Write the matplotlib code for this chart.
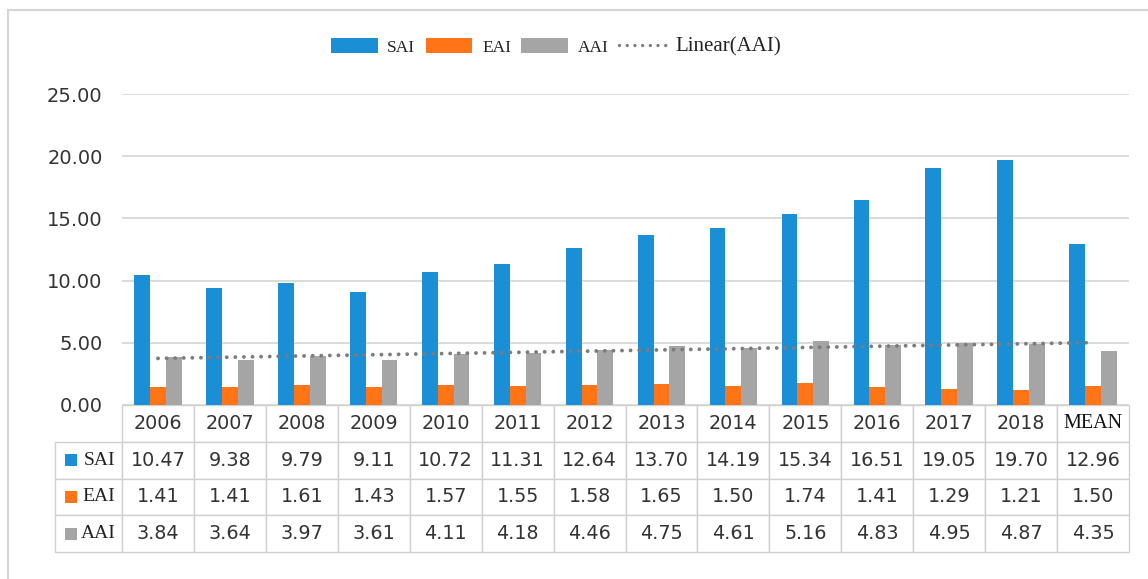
import numpy as np
import matplotlib
matplotlib.use("Agg")
import matplotlib.pyplot as plt
from matplotlib.patches import Patch, Rectangle
from matplotlib.lines import Line2D

categories = ["2006", "2007", "2008", "2009", "2010", "2011", "2012", "2013",
              "2014", "2015", "2016", "2017", "2018", "MEAN"]
sai = [10.47, 9.38, 9.79, 9.11, 10.72, 11.31, 12.64, 13.70, 14.19, 15.34,
       16.51, 19.05, 19.70, 12.96]
eai = [1.41, 1.41, 1.61, 1.43, 1.57, 1.55, 1.58, 1.65, 1.50, 1.74,
       1.41, 1.29, 1.21, 1.50]
aai = [3.84, 3.64, 3.97, 3.61, 4.11, 4.18, 4.46, 4.75, 4.61, 5.16,
       4.83, 4.95, 4.87, 4.35]
series_names = ["SAI", "EAI", "AAI"]
series_values = [sai, eai, aai]
colors = ["#1a8fd6", "#ff7417", "#a5a5a5"]
yticks = [0, 5, 10, 15, 20, 25]

W, H = 1148, 579
fig = plt.figure(figsize=(W / 100, H / 100), dpi=100)
fig.patch.set_facecolor("white")

# outer border (top and left visible)
fig.add_artist(Line2D([8 / W, 1.0], [1 - 10 / H, 1 - 10 / H], color="#d6d6d6", lw=1.5))
fig.add_artist(Line2D([8 / W, 8 / W], [0, 1 - 10 / H], color="#d6d6d6", lw=1.5))

ax_left, ax_right, ax_top, ax_bottom = 122, 1129, 94, 405
ax = fig.add_axes([ax_left / W, 1 - ax_bottom / H, (ax_right - ax_left) / W,
                   (ax_bottom - ax_top) / H])

x = np.arange(len(categories))
bw = 0.22
for i, (name, vals, c) in enumerate(zip(series_names, series_values, colors)):
    ax.bar(x + (i - 1) * bw, vals, width=bw, color=c, label=name, zorder=2)

# linear trendline of AAI
coef = np.polyfit(x, aai, 1)
ax.plot([x[0], x[-1]], np.polyval(coef, [x[0], x[-1]]), color="#7c7c7c", lw=2.8,
        linestyle=(0, (0.01, 2.2)), dash_capstyle="round", zorder=3)

ax.set_xlim(-0.5, len(categories) - 0.5)
ax.set_ylim(0, 25)
ax.set_yticks(yticks)
ax.set_yticklabels([f"{v:.2f}" for v in yticks], fontsize=14, color="#333333",
                   family="DejaVu Sans")
ax.tick_params(axis="y", length=0, pad=14)
ax.set_xticks([])
ax.grid(axis="y", color="#d4d4d4", lw=1.2)
ax.set_axisbelow(True)
for s in ax.spines.values():
    s.set_visible(False)

# data table
ncol = len(categories)
colw = 1.0 / ncol
rowlabw = colw * 67 / 72
tbl_h = (552 - 405) / (ax_bottom - ax_top)
cell_text = [[f"{v:.2f}" for v in vals] for vals in series_values]
tbl = ax.table(cellText=cell_text, rowLabels=series_names, colLabels=categories,
               colWidths=[colw] * ncol,
               cellLoc="center", rowLoc="right", colLoc="center",
               bbox=[0, -tbl_h, 1, tbl_h])
tbl._autoColumns = []
tbl.auto_set_font_size(False)
tbl.set_fontsize(13.8)
for (r, c), cell in tbl.get_celld().items():
    if c == -1:
        cell.set_width(rowlabw)
    cell.set_edgecolor("#d0d0d0")
    cell.set_linewidth(1.0)
    t = cell.get_text()
    t.set_color("#333333")
    t.set_family("DejaVu Sans")
    if c == -1:
        t.set_family("Liberation Serif")
        t.set_color("#222222")
        t.set_fontsize(14)
    if r == 0 and categories[c] == "MEAN":
        t.set_family("Liberation Serif")
        t.set_color("#111111")
        t.set_fontsize(14.5)

# colored squares in row labels
rh = tbl_h / 4
sq_w = 12 / (ax_right - ax_left)
sq_h = 12 / (ax_bottom - ax_top)
for i, c in enumerate(colors):
    yc = -rh * (1.5 + i)
    ax.add_patch(Rectangle((-rowlabw + 10 / (ax_right - ax_left), yc - sq_h / 2), sq_w, sq_h,
                           transform=ax.transAxes, facecolor=c, edgecolor="none",
                           clip_on=False, zorder=5))

# legend
handles = [Patch(facecolor=c, edgecolor="none") for c in colors]
handles.append(Line2D([0], [0], color="#7c7c7c", lw=2.4, linestyle=(0, (0.01, 2.3)),
                      dash_capstyle="round"))
labels = series_names + ["Linear(AAI)"]
leg = fig.legend(handles, labels, loc="center", bbox_to_anchor=(556 / W, 1 - 47 / H),
                 ncol=4, frameon=False, prop={"family": "Liberation Serif", "size": 12.5},
                 handlelength=2.7, handleheight=1.0, handletextpad=0.55,
                 columnspacing=0.6)
leg.get_texts()[3].set_fontsize(15)
for t in leg.get_texts():
    t.set_color("#222222")

fig.savefig("out.png", dpi=100, facecolor="white")
